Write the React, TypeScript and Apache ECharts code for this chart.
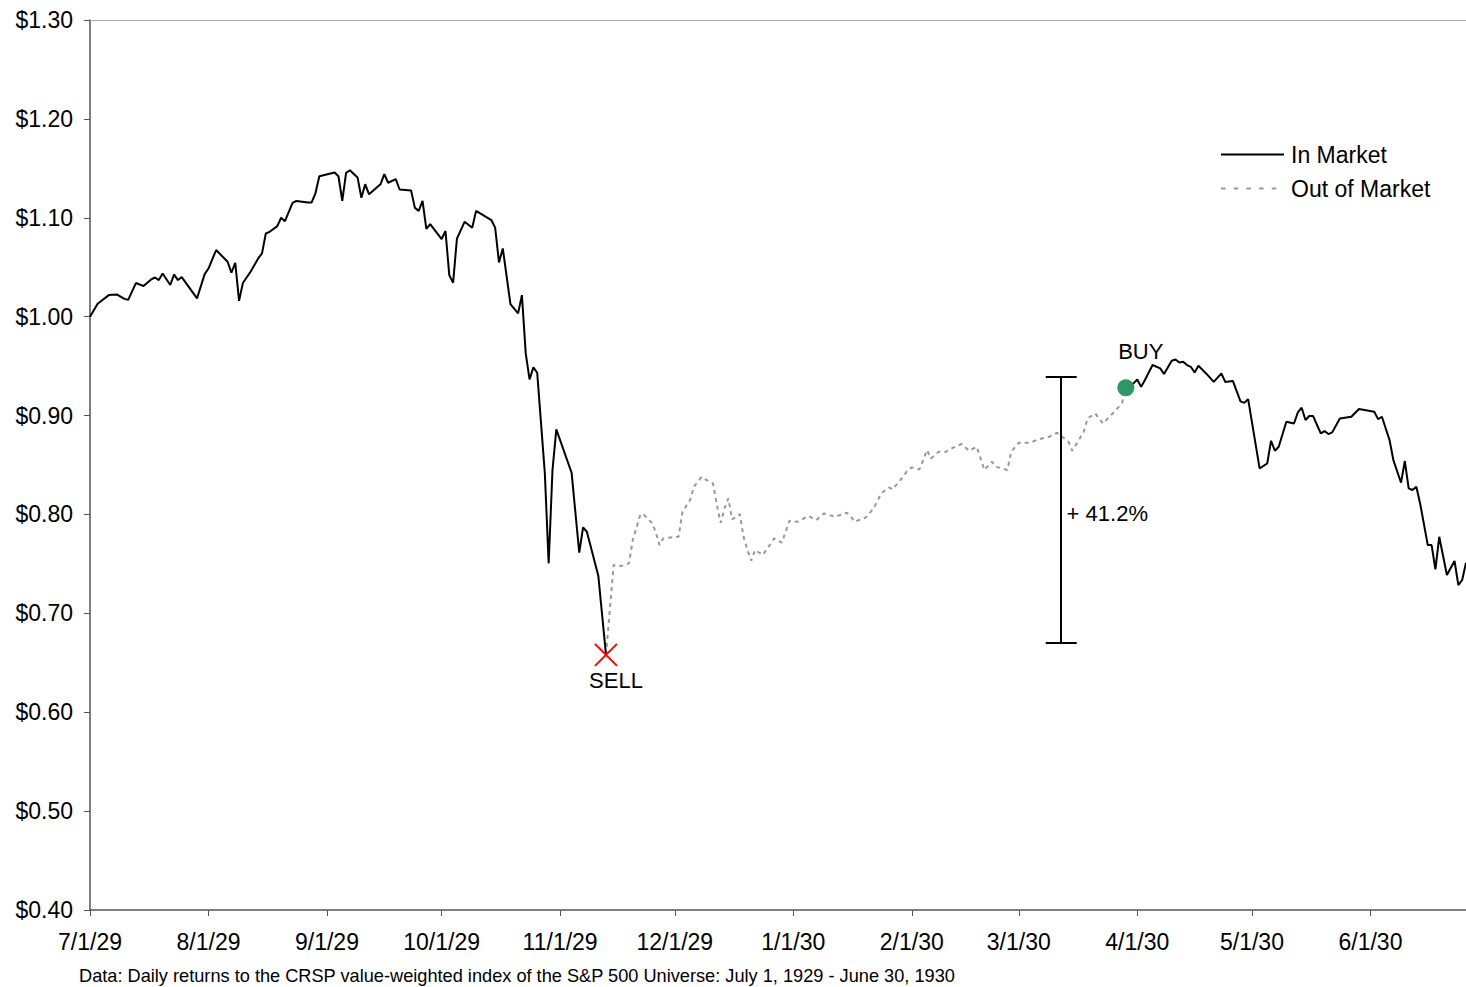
import React, { useEffect, useRef } from 'react';
import * as echarts from 'echarts';

// Days counted from 7/1/29
const monthStartDays = [0, 31, 62, 92, 123, 153, 184, 215, 243, 274, 304, 335];
const tickLabels = ['7/1/29', '8/1/29', '9/1/29', '10/1/29', '11/1/29', '12/1/29', '1/1/30', '2/1/30', '3/1/30', '4/1/30', '5/1/30', '6/1/30'];

const inMarketDaysA = [0,2,5,7,9,10,12,14,16,17,18,19,21,22,23,24,28,30,31,33,36,37,38,39,40,42,44,45,46,47,49,50,51,53,54,57,58,59,60,64,65,66,67,68,70,71,72,73,76,77,78,80,81,84,85,86,87,88,89,92,93,94,95,96,98,100,101,105,106,107,108,110,112,113,114,115,116,117,119,120,121,122,126,128,129,130,133,135];
const inMarketValuesA = [1.000,1.013,1.022,1.0225,1.018,1.017,1.034,1.031,1.0376,1.0396,1.037,1.0437,1.032,1.0427,1.037,1.040,1.0185,1.043,1.0487,1.0674,1.0555,1.0444,1.0545,1.016,1.034,1.0454,1.0589,1.064,1.0841,1.0858,1.0916,1.100,1.0966,1.115,1.117,1.1155,1.1155,1.125,1.142,1.1458,1.142,1.1172,1.1455,1.148,1.1408,1.1202,1.134,1.1237,1.1338,1.1442,1.1354,1.139,1.1286,1.1277,1.110,1.107,1.117,1.0888,1.0936,1.0785,1.0866,1.042,1.0343,1.079,1.0959,1.0899,1.107,1.0977,1.090,1.0549,1.069,1.0127,1.0033,1.0218,0.9629,0.9365,0.9487,0.9433,0.8415,0.7505,0.8449,0.886,0.8422,0.7613,0.787,0.7825,0.7377,0.658];

const outDays = [135,137,139,141,142,143,144,145,147,148,149,150,152,154,155,157,158,160,161,163,164,165,166,167,168,170,171,172,173,174,176,178,179,181,183,185,188,190,192,195,198,199,200,203,205,207,209,210,212,214,215,217,218,219,220,222,224,226,228,230,232,234,236,237,240,241,243,246,248,251,253,256,257,260,261,263,265,268,270,271];
const outValues = [0.658,0.749,0.7478,0.7505,0.774,0.787,0.8004,0.7994,0.7915,0.7825,0.769,0.7758,0.7768,0.7774,0.8027,0.8146,0.828,0.838,0.8355,0.8314,0.8095,0.7915,0.806,0.8162,0.795,0.8004,0.7774,0.764,0.7532,0.764,0.759,0.770,0.7758,0.7714,0.7936,0.7925,0.7984,0.7943,0.801,0.7977,0.8017,0.7984,0.7926,0.797,0.806,0.8212,0.8273,0.8254,0.8348,0.8449,0.8476,0.8455,0.855,0.8651,0.8566,0.8634,0.8634,0.8678,0.8712,0.8644,0.8684,0.845,0.8533,0.8482,0.845,0.8634,0.8725,0.8725,0.8759,0.8786,0.8826,0.8735,0.8644,0.8836,0.8971,0.9021,0.892,0.9038,0.9124,0.928];

const inMarketDaysB = [271,273,274,275,276,278,280,281,283,284,285,286,287,288,289,290,292,294,296,297,299,301,302,303,306,308,309,310,311,313,315,316,317,318,319,320,322,323,324,325,327,330,332,336,337,338,340,341,343,344,345,346,347,348,350,351,352,353,355,357,358,359,360];
const inMarketValuesB = [0.928,0.9325,0.9365,0.929,0.9359,0.9511,0.9477,0.942,0.9555,0.9567,0.9537,0.9544,0.951,0.9493,0.9436,0.9503,0.9426,0.934,0.9426,0.934,0.935,0.9144,0.9128,0.9166,0.8465,0.8516,0.8745,0.8644,0.8684,0.8937,0.892,0.9031,0.9079,0.8955,0.8995,0.8995,0.882,0.8843,0.8813,0.883,0.8971,0.8988,0.9066,0.9039,0.8964,0.8988,0.8752,0.855,0.8321,0.854,0.8263,0.8247,0.828,0.8111,0.769,0.769,0.7444,0.7774,0.7387,0.7529,0.7286,0.7337,0.7512];

const sellPoint = [135, 0.658];
const buyPoint = [271, 0.928];
const gainLabel = '+ 41.2%';
const bracketDay = 254.1;
const bracketTop = 0.939;
const bracketBottom = 0.670;
const footnote = 'Data: Daily returns to the CRSP value-weighted index of the S&P 500 Universe: July 1, 1929 - June 30, 1930';

const FONT = '"Liberation Sans", Arial, sans-serif';
const zip = (xs: number[], ys: number[]) => xs.map((x, i) => [x, ys[i]]);

export default function App() {
  const ref = useRef<HTMLDivElement>(null);
  useEffect(() => {
    const chart = echarts.init(ref.current!, null, { renderer: 'svg' });
    const capHalf = 4.05;
    const option: any = {
      animation: false,
      backgroundColor: '#ffffff',
      textStyle: { fontFamily: FONT },
      grid: { left: 90, top: 20, right: 0, bottom: 77, containLabel: false },
      legend: {
        data: [
          { name: 'In Market' },
          { name: 'Out of Market', lineStyle: { type: [4.5, 8.2] } },
        ],
        orient: 'vertical',
        left: 1215,
        top: 138,
        itemWidth: 63,
        itemHeight: 14,
        itemGap: 11,
        itemStyle: { opacity: 0 },
        textStyle: { fontSize: 23, color: '#000', fontFamily: FONT, padding: [0, 0, 0, 2] },
      },
      xAxis: [
        {
          type: 'value',
          min: 0,
          max: 360,
          axisLine: { show: true, onZero: false, lineStyle: { color: '#555', width: 1.5 } },
          axisTick: { show: true, length: 6, lineStyle: { color: '#555' }, customValues: monthStartDays },
          axisLabel: {
            customValues: monthStartDays,
            formatter: (v: number) => tickLabels[monthStartDays.indexOf(v)] ?? '',
            fontSize: 23,
            color: '#000',
            margin: 20,
            fontFamily: FONT,
          },
          splitLine: { show: false },
        },
        {
          type: 'value',
          position: 'top',
          min: 0,
          max: 360,
          axisLine: { show: true, onZero: false, lineStyle: { color: '#aaa', width: 1 } },
          axisTick: { show: false },
          axisLabel: { show: false },
          splitLine: { show: false },
        },
      ],
      yAxis: {
        type: 'value',
        min: 0.4,
        max: 1.3,
        interval: 0.1,
        axisLine: { show: true, onZero: false, lineStyle: { color: '#555', width: 1.5 } },
        axisTick: { show: true, length: 6, lineStyle: { color: '#555' } },
        axisLabel: {
          formatter: (v: number) => '$' + v.toFixed(2),
          fontSize: 23,
          color: '#000',
          margin: 17,
          fontFamily: FONT,
        },
        splitLine: { show: false },
      },
      series: [
        {
          name: 'Out of Market',
          type: 'line',
          data: zip(outDays, outValues),
          symbol: 'none',
          lineStyle: { color: '#999999', width: 2, type: [4, 4] },
          itemStyle: { color: '#999999' },
          z: 2,
        },
        {
          name: 'In Market',
          type: 'line',
          data: zip(inMarketDaysA, inMarketValuesA),
          symbol: 'none',
          lineStyle: { color: '#000', width: 2 },
          itemStyle: { color: '#000' },
          z: 3,
        },
        {
          name: 'In Market',
          type: 'line',
          data: zip(inMarketDaysB, inMarketValuesB),
          symbol: 'none',
          lineStyle: { color: '#000', width: 2 },
          itemStyle: { color: '#000' },
          z: 3,
        },
        {
          name: 'bracket',
          type: 'lines',
          coordinateSystem: 'cartesian2d',
          polyline: false,
          silent: true,
          lineStyle: { color: '#000', width: 2, opacity: 1 },
          data: [
            { coords: [[bracketDay, bracketTop], [bracketDay, bracketBottom]] },
            { coords: [[bracketDay - capHalf, bracketTop], [bracketDay + capHalf, bracketTop]] },
            { coords: [[bracketDay - capHalf, bracketBottom], [bracketDay + capHalf, bracketBottom]] },
          ],
          z: 4,
        },
        {
          name: 'gain',
          type: 'scatter',
          silent: true,
          symbolSize: 0,
          itemStyle: { opacity: 1 },
          data: [[bracketDay + 0.1, 0.801]],
          label: { show: true, position: 'right', distance: 5, formatter: gainLabel, fontSize: 22, color: '#000', fontFamily: FONT },
          z: 5,
        },
        {
          name: 'sell',
          type: 'scatter',
          silent: true,
          data: [sellPoint],
          symbol: 'path://M0,0L10,10M10,0L0,10',
          symbolSize: 22,
          itemStyle: { color: 'none', borderColor: '#ff0000', borderWidth: 2, opacity: 1 },
          label: { show: true, position: 'bottom', distance: 3, formatter: 'SELL', fontSize: 22, color: '#000', fontFamily: FONT, offset: [10, -2] },
          z: 6,
        },
        {
          name: 'buy',
          type: 'scatter',
          silent: true,
          data: [buyPoint],
          symbol: 'circle',
          symbolSize: 17,
          itemStyle: { color: '#2f9766', opacity: 1 },
          label: { show: true, position: 'top', distance: 5, formatter: 'BUY', fontSize: 22, color: '#000', fontFamily: FONT, offset: [15, -12] },
          z: 6,
        },
      ],
      graphic: [
        {
          type: 'text',
          left: 79,
          top: 967,
          style: { text: footnote, fontSize: 18.2, fill: '#000', fontFamily: FONT },
        },
      ],
    };
    chart.setOption(option);
    return () => chart.dispose();
  }, []);
  return (
    <div
      ref={ref}
      style={{ position: 'fixed', left: 0, top: 0, width: 1466, height: 987, background: '#fff' }}
    />
  );
}
